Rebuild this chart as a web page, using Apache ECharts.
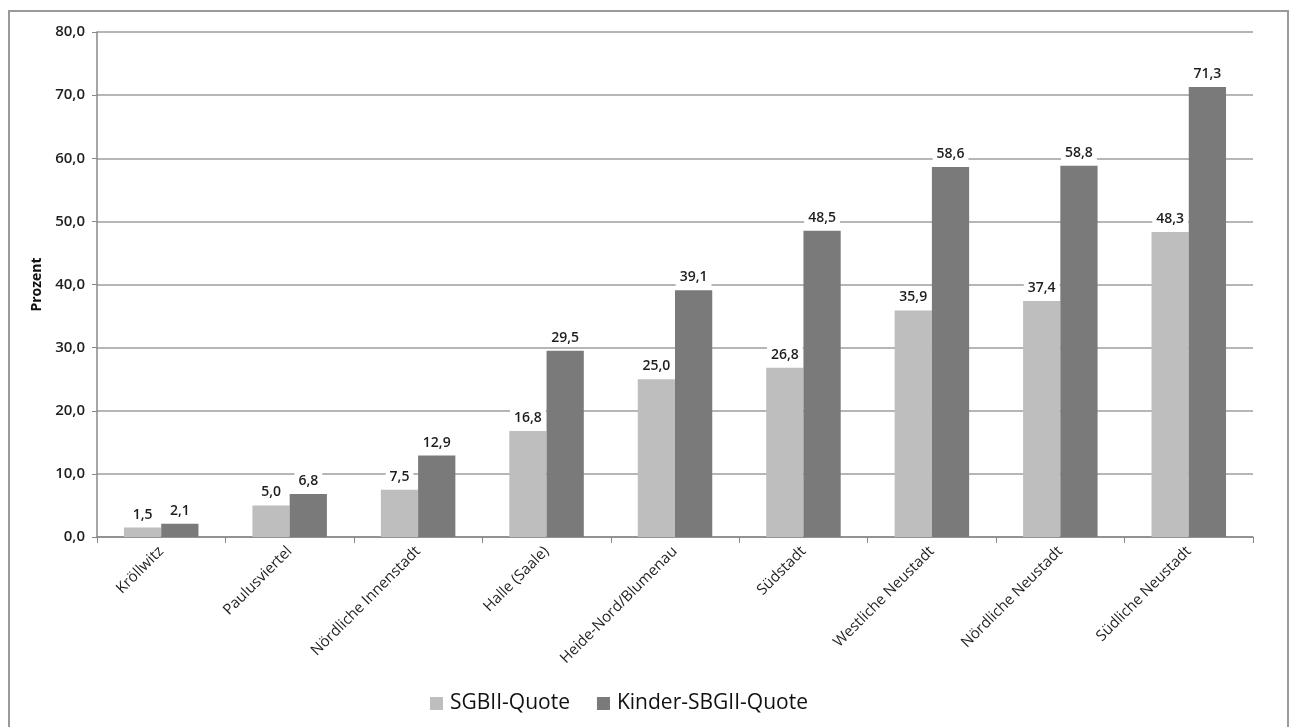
<!DOCTYPE html>
<html>
<head>
<meta charset="utf-8">
<script src="https://cdn.jsdelivr.net/npm/echarts@6/dist/echarts.min.js"></script>
<style>
  html, body { margin: 0; padding: 0; background: #ffffff; }
  #chart { width: 1290px; height: 727px; }
</style>
</head>
<body>
<div id="chart"></div>
<script>
// Stadtteile
const categories = [
  'Kröllwitz', 'Paulusviertel', 'Nördliche Innenstadt', 'Halle (Saale)',
  'Heide-Nord/Blumenau', 'Südstadt', 'Westliche Neustadt', 'Nördliche Neustadt', 'Südliche Neustadt'
];
// SGBII-Quote in Prozent
const sgbiiQuote = [1.5, 5.0, 7.5, 16.8, 25.0, 26.8, 35.9, 37.4, 48.3];
// Kinder-SGBII-Quote in Prozent
const kinderQuote = [2.1, 6.8, 12.9, 29.5, 39.1, 48.5, 58.6, 58.8, 71.3];
const seriesNames = ['SGBII-Quote', 'Kinder-SBGII-Quote'];

const FONT = 'Open Sans';
const fmt = v => Number(v).toFixed(1).replace('.', ',');

const chart = echarts.init(document.getElementById('chart'), null, { renderer: 'canvas' });

const labelStyle = {
  show: true,
  position: 'top',
  distance: 4,
  formatter: p => fmt(p.value),
  fontFamily: FONT,
  fontSize: 14,
  fontWeight: 600,
  color: '#1e1e1e',
  backgroundColor: '#ffffff',
  padding: [3, 4, 2, 4]
};

chart.setOption({
  animation: false,
  backgroundColor: '#ffffff',
  graphic: [{
    type: 'rect',
    shape: { x: 9, y: 11, width: 1279, height: 740 },
    style: { fill: 'none', stroke: '#9a9a9a', lineWidth: 2 },
    silent: true,
    z: -1
  }],
  grid: { left: 97, right: 37, top: 32, bottom: 190, containLabel: false },
  legend: {
    data: seriesNames,
    bottom: 8,
    left: 425,
    itemWidth: 13,
    itemHeight: 13,
    itemGap: 27,
    icon: 'rect',
    textStyle: { fontFamily: FONT, fontSize: 21, color: '#111', padding: [0, 0, 0, 2] }
  },
  xAxis: {
    type: 'category',
    data: categories,
    axisLine: { lineStyle: { color: '#8a8686', width: 1.5 } },
    axisTick: { show: true, alignWithLabel: false, length: 6, lineStyle: { color: '#8a8686' } },
    axisLabel: {
      rotate: 45,
      interval: 0,
      margin: 12,
      fontFamily: FONT,
      fontSize: 15,
      color: '#1e1e1e'
    }
  },
  yAxis: {
    type: 'value',
    min: 0,
    max: 80,
    interval: 10,
    name: 'Prozent',
    nameLocation: 'middle',
    nameGap: 53,
    nameRotate: 90,
    nameTextStyle: { fontFamily: FONT, fontSize: 14, fontWeight: 'bold', color: '#111' },
    axisLine: { show: true, lineStyle: { color: '#8a8686', width: 1.5 } },
    axisTick: { show: true, length: 5, lineStyle: { color: '#8a8686' } },
    axisLabel: {
      formatter: v => fmt(v),
      fontFamily: FONT,
      fontSize: 15,
      fontWeight: 600,
      color: '#1e1e1e',
      margin: 12
    },
    splitLine: { lineStyle: { color: '#a39c99', width: 1.5 } }
  },
  series: [
    {
      name: seriesNames[0],
      type: 'bar',
      data: sgbiiQuote,
      barGap: '0%',
      barCategoryGap: '42%',
      itemStyle: { color: '#bebebe' },
      label: labelStyle
    },
    {
      name: seriesNames[1],
      type: 'bar',
      data: kinderQuote,
      itemStyle: { color: '#7a7a7a' },
      label: labelStyle
    }
  ]
});
</script>
</body>
</html>
